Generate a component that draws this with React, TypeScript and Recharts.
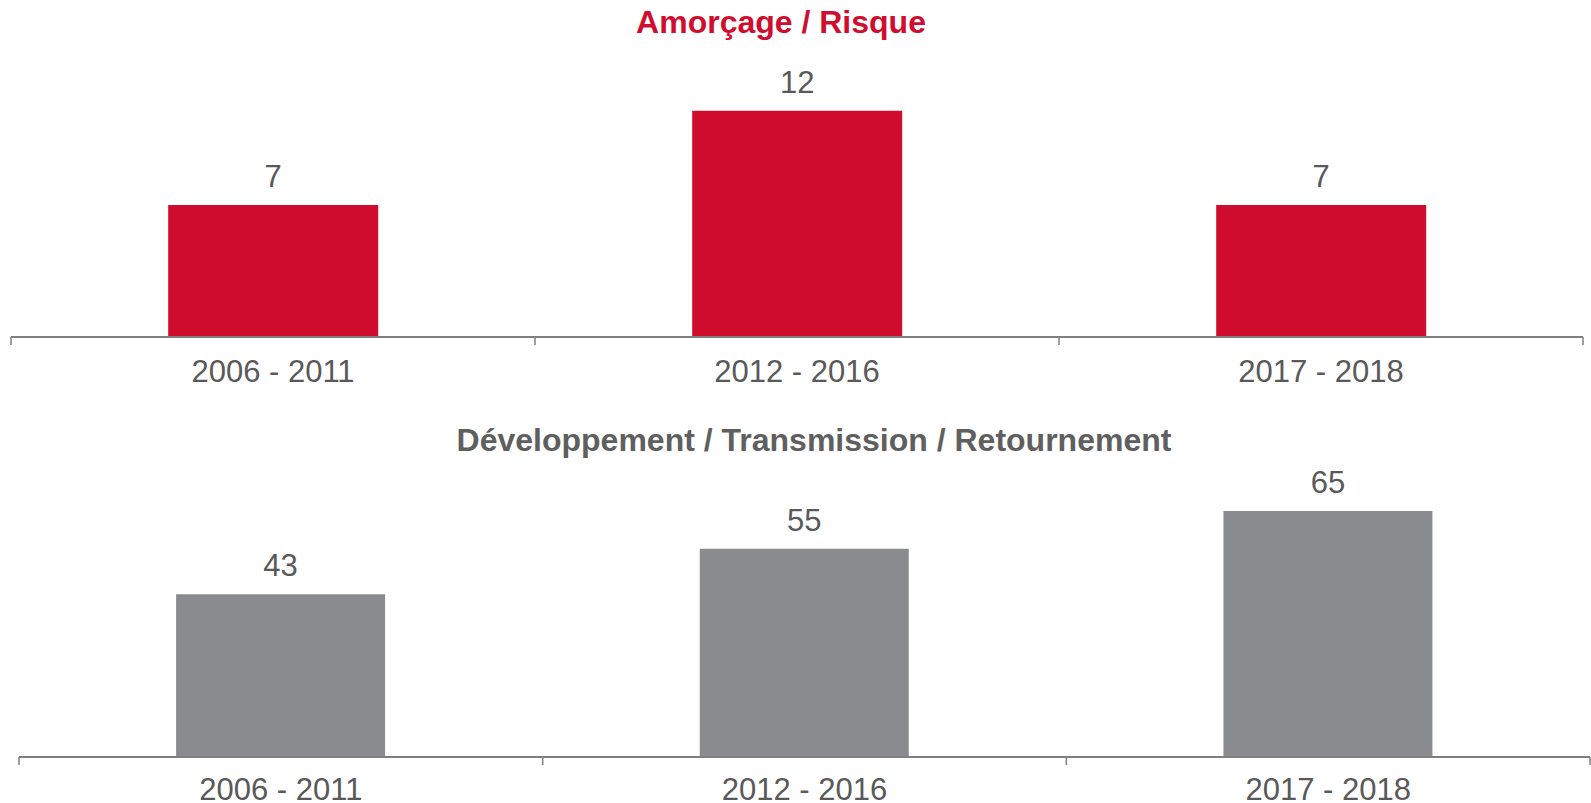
import { Bar, BarChart, LabelList, XAxis, YAxis } from "recharts";

const periods = ["2006 - 2011", "2012 - 2016", "2017 - 2018"];
const amorcageValues = [7, 12, 7];
const developpementValues = [43, 55, 65];
const amorcageTitle = "Amorçage / Risque";
const developpementTitle = "Développement / Transmission / Retournement";

const RED = "#D00C2F";
const GREY_BAR = "#8A8B8F";
const TEXT = "#595959";
const TITLE_GREY = "#5F5F5F";
const AXIS = "#7F7F7F";
const FONT = "'Liberation Sans', Arial, sans-serif";

type PeriodTickProps = {
  x: number;
  y: number;
  index: number;
  payload: { value: string };
  band: number;
  gap: number;
};

// labels centred in the band, tick marks on the band edges
function PeriodTick({ x, y, index, payload, band, gap }: PeriodTickProps) {
  const axisY = y - gap;
  const left = x - band / 2;
  return (
    <g>
      <line x1={left} x2={left} y1={axisY} y2={axisY + 8} stroke={AXIS} strokeWidth={1.5} />
      {index === periods.length - 1 && (
        <line x1={left + band} x2={left + band} y1={axisY} y2={axisY + 8} stroke={AXIS} strokeWidth={1.5} />
      )}
      <text x={x} y={y} dy="0.71em" textAnchor="middle" fill={TEXT} fontSize={31} fontFamily={FONT}>
        {payload.value}
      </text>
    </g>
  );
}

type PeriodChartProps = {
  values: number[];
  color: string;
  width: number;
  height: number;
  margin: { top: number; right: number; left: number; bottom: number };
  axisHeight: number;
  domainMax: number;
  gap: number;
};

function PeriodChart({ values, color, width, height, margin, axisHeight, domainMax, gap }: PeriodChartProps) {
  const data = periods.map((name, i) => ({ name, value: values[i] }));
  const band = (width - margin.left - margin.right) / periods.length;
  return (
    <BarChart width={width} height={height} data={data} margin={margin} barCategoryGap="30%">
      <XAxis
        dataKey="name"
        interval={0}
        height={axisHeight}
        tickSize={0}
        tickMargin={gap}
        tickLine={false}
        axisLine={{ stroke: AXIS, strokeWidth: 2 }}
        tick={(p: any) => <PeriodTick {...p} band={band} gap={gap} />}
      />
      <YAxis hide domain={[0, domainMax]} />
      <Bar dataKey="value" fill={color} isAnimationActive={false}>
        <LabelList dataKey="value" position="top" offset={18} fill={TEXT} fontSize={31} fontFamily={FONT} />
      </Bar>
    </BarChart>
  );
}

export default function App() {
  return (
    <div
      style={{
        position: "absolute",
        left: 0,
        top: 0,
        width: 1591,
        height: 803,
        overflow: "hidden",
        background: "#fff",
        fontFamily: FONT,
      }}
    >
      <div style={{ position: "absolute", left: 0, top: 0 }}>
        <PeriodChart
          values={amorcageValues}
          color={RED}
          width={1591}
          height={400}
          margin={{ top: 73, right: 8, left: 11, bottom: 0 }}
          axisHeight={63}
          domainMax={14}
          gap={23}
        />
      </div>
      <div style={{ position: "absolute", left: 0, top: 400 }}>
        <PeriodChart
          values={developpementValues}
          color={GREY_BAR}
          width={1591}
          height={403}
          margin={{ top: 92, right: 1, left: 19, bottom: 0 }}
          axisHeight={46}
          domainMax={70}
          gap={21}
        />
      </div>
      <svg
        width={1591}
        height={803}
        style={{ position: "absolute", left: 0, top: 0, pointerEvents: "none" }}
      >
        <text x={781} y={33} textAnchor="middle" fill={RED} fontSize={32} fontWeight="bold" fontFamily={FONT}>
          {amorcageTitle}
        </text>
        <text x={814} y={451} textAnchor="middle" fill={TITLE_GREY} fontSize={32} fontWeight="bold" fontFamily={FONT}>
          {developpementTitle}
        </text>
      </svg>
    </div>
  );
}
